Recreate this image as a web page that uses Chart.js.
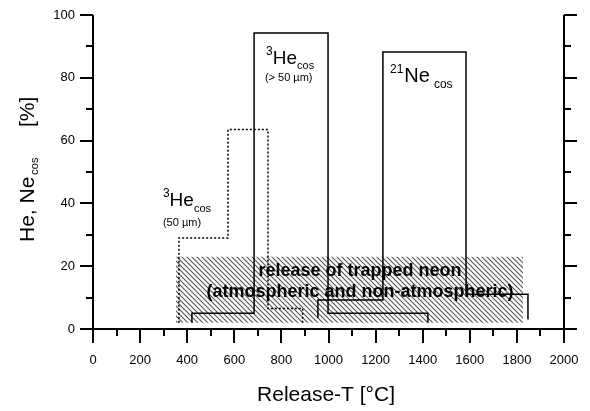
<!DOCTYPE html>
<html>
<head>
<meta charset="utf-8">
<script src="https://cdn.jsdelivr.net/npm/chart.js@4/dist/chart.umd.min.js"></script>
<style>
  html, body { margin: 0; padding: 0; background: #fff; }
  canvas { display: block; }
</style>
</head>
<body>
<canvas id="chart" width="590" height="411"></canvas>
<script>
// step histograms, bin edges in degC and release fractions in %
const heSmallEdges = [365, 573, 743, 890];
const heSmallValues = [29, 63.5, 6.5];
const heSmallBase = [2, 2];

const heLargeEdges = [420, 684, 998, 1422];
const heLargeValues = [5, 94.3, 5];
const heLargeBase = [2, 2];

const neEdges = [955, 1231, 1584, 1847];
const neValues = [9.2, 88.2, 11.1];
const neBase = [3.5, 3];

// hatched band: trapped neon release
const trappedRange = [352, 1826];
const trappedLevels = [2, 23];

const xTicks = [0, 200, 400, 600, 800, 1000, 1200, 1400, 1600, 1800, 2000];
const yTicks = [0, 20, 40, 60, 80, 100];

const FONT = "'Liberation Sans', Arial, Helvetica, sans-serif";

// turn edges + values into the outline of a step histogram
function steps(edges, values, base) {
  const pts = [{ x: edges[0], y: base[0] }];
  values.forEach((v, i) => {
    pts.push({ x: edges[i], y: v });
    pts.push({ x: edges[i + 1], y: v });
  });
  pts.push({ x: edges[edges.length - 1], y: base[1] });
  return pts;
}

function hatchPattern() {
  const c = document.createElement("canvas");
  c.width = 5;
  c.height = 5;
  const g = c.getContext("2d");
  g.strokeStyle = "#555";
  g.lineWidth = 1.1;
  g.beginPath();
  g.moveTo(-1, -1);
  g.lineTo(6, 6);
  g.moveTo(-1, 4);
  g.lineTo(1, 6);
  g.moveTo(4, -1);
  g.lineTo(6, 1);
  g.stroke();
  return g.createPattern(c, "repeat");
}

// draw a run of text pieces (normal / super / sub) one after another
function runText(ctx, x, y, parts) {
  parts.forEach((p) => {
    ctx.font = (p.bold ? "bold " : "") + p.size + "px " + FONT;
    ctx.fillText(p.t, x, y + (p.dy || 0));
    x += ctx.measureText(p.t).width + (p.gap || 0);
  });
}

// keep the plot box where the reference has it (no label overhang)
function noOverhang(s) {
  s.paddingTop = 0;
  s.paddingBottom = 0;
  s.paddingLeft = 0;
  s.paddingRight = 0;
}

const framePlugin = {
  id: "frame",
  afterDatasetsDraw(chart) {
    const { ctx, scales: { x, y } } = chart;
    ctx.save();
    ctx.fillStyle = "#000";
    ctx.textBaseline = "alphabetic";
    ctx.textAlign = "left";

    runText(ctx, x.getPixelForValue(297), y.getPixelForValue(39.2), [
      { t: "3", size: 12, dy: -9 },
      { t: "He", size: 19 },
      { t: "cos", size: 11, dy: 6 }
    ]);
    runText(ctx, x.getPixelForValue(297), y.getPixelForValue(32.8), [
      { t: "(50 \u00b5m)", size: 11 }
    ]);

    runText(ctx, x.getPixelForValue(735), y.getPixelForValue(84.4), [
      { t: "3", size: 12, dy: -9 },
      { t: "He", size: 19 },
      { t: "cos", size: 11, dy: 5 }
    ]);
    runText(ctx, x.getPixelForValue(730), y.getPixelForValue(79), [
      { t: "(> 50 \u00b5m)", size: 11 }
    ]);

    runText(ctx, x.getPixelForValue(1261), y.getPixelForValue(78.7), [
      { t: "21", size: 12, dy: -9, gap: 1 },
      { t: "Ne", size: 20, gap: 4 },
      { t: "cos", size: 12, dy: 6 }
    ]);

    ctx.textAlign = "center";
    ctx.font = "bold 18px " + FONT;
    const cx = x.getPixelForValue(1134);
    ctx.fillText("release of trapped neon", cx, y.getPixelForValue(16.9));
    ctx.fillText("(atmospheric and non-atmospheric)", cx, y.getPixelForValue(10.2));
    ctx.restore();
  },
  afterDraw(chart) {
    const { ctx, chartArea: a, scales: { x, y } } = chart;
    ctx.save();
    ctx.strokeStyle = "#000";
    ctx.lineWidth = 2;
    ctx.beginPath();
    ctx.moveTo(a.left, a.top);
    ctx.lineTo(a.left, a.bottom);
    ctx.lineTo(a.right, a.bottom);
    ctx.moveTo(a.right, a.top);
    ctx.lineTo(a.right, a.bottom + 1);
    for (let v = 0; v <= 2000; v += 100) {
      const px = Math.round(x.getPixelForValue(v));
      const len = v % 200 === 0 ? 14 : 7;
      ctx.moveTo(px, a.bottom);
      ctx.lineTo(px, a.bottom + len);
    }
    for (let v = 0; v <= 100; v += 10) {
      const py = Math.round(y.getPixelForValue(v));
      const len = v % 20 === 0 ? 13 : 7;
      ctx.moveTo(a.left - len, py);
      ctx.lineTo(a.left, py);
      ctx.moveTo(a.right, py);
      ctx.lineTo(a.right + len, py);
    }
    ctx.stroke();

    // axis titles
    ctx.fillStyle = "#000";
    ctx.textAlign = "center";
    ctx.font = "21px " + FONT;
    ctx.fillText("Release-T [\u00b0C]", 326, 401);

    ctx.translate(34, 242);
    ctx.rotate(-Math.PI / 2);
    ctx.textAlign = "left";
    runText(ctx, 0, 0, [
      { t: "He, Ne", size: 21, gap: 2 },
      { t: "cos", size: 11, dy: 4 }
    ]);
    ctx.font = "21px " + FONT;
    ctx.fillText("[%]", 115, 0);
    ctx.restore();
  }
};

const lineStyle = {
  showLine: true,
  pointRadius: 0,
  borderColor: "#000",
  borderWidth: 1.5,
  tension: 0,
  fill: false
};

new Chart(document.getElementById("chart"), {
  type: "scatter",
  data: {
    datasets: [
      { ...lineStyle, label: "3He cos >50", data: steps(heLargeEdges, heLargeValues, heLargeBase) },
      { ...lineStyle, label: "21Ne cos", data: steps(neEdges, neValues, neBase) },
      { ...lineStyle, label: "3He cos 50", borderDash: [2, 2], data: steps(heSmallEdges, heSmallValues, heSmallBase) },
      {
        label: "trapped neon",
        showLine: true,
        pointRadius: 0,
        borderWidth: 0,
        borderColor: "rgba(0,0,0,0)",
        backgroundColor: hatchPattern(),
        fill: { value: trappedLevels[0] },
        data: trappedRange.map((t) => ({ x: t, y: trappedLevels[1] }))
      }
    ]
  },
  options: {
    responsive: false,
    animation: false,
    events: [],
    layout: { padding: { top: 15, left: 0, right: 0, bottom: 0 } },
    plugins: { legend: { display: false }, tooltip: { enabled: false } },
    scales: {
      x: {
        type: "linear",
        min: 0,
        max: 2000,
        grid: { display: false },
        border: { display: false },
        ticks: {
          stepSize: 100,
          autoSkip: false,
          maxRotation: 0,
          padding: 16,
          color: "#000",
          font: { family: FONT, size: 13 },
          callback: (v) => (xTicks.includes(v) ? v : "")
        },
        afterFit: (s) => { s.height = 82; noOverhang(s); }
      },
      y: {
        position: "left",
        min: 0,
        max: 100,
        grid: { display: false },
        border: { display: false },
        ticks: {
          stepSize: 10,
          padding: 10,
          color: "#000",
          font: { family: FONT, size: 13 },
          callback: (v) => (yTicks.includes(v) ? v : "")
        },
        afterFit: (s) => { s.width = 93; noOverhang(s); }
      },
      y2: {
        position: "right",
        min: 0,
        max: 100,
        grid: { display: false },
        border: { display: false },
        ticks: { display: false },
        afterFit: (s) => { s.width = 26; noOverhang(s); }
      }
    }
  },
  plugins: [framePlugin]
});
</script>
</body>
</html>
